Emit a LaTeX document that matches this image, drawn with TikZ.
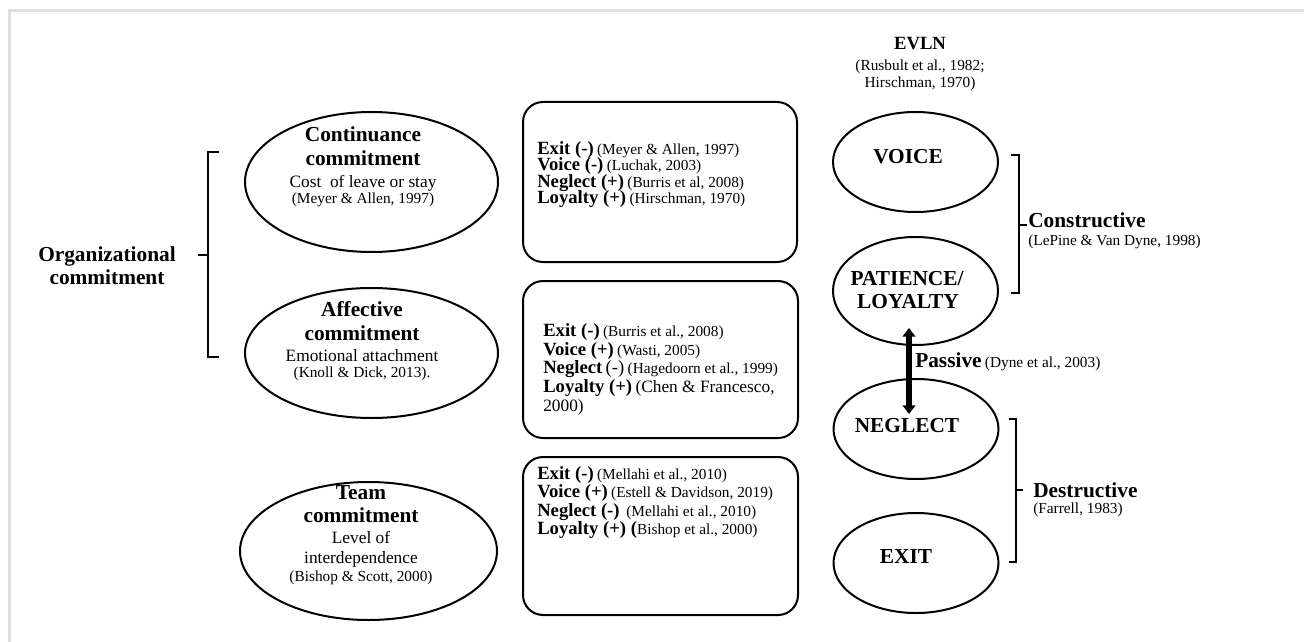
\documentclass[tikz,border=0pt]{standalone}
\usepackage{fontspec}
\setmainfont{Liberation Serif}
\usetikzlibrary{shapes.geometric,arrows.meta,calc}
\newcommand\BB[1]{{\fontsize{14}{16}\selectfont\bfseries #1}}
\newcommand\BR[1]{{\fontsize{14}{16}\selectfont #1}}
\newcommand\CC[1]{{\fontsize{11.5}{13}\selectfont #1}}
\newcommand\CL[1]{{\fontsize{13}{15}\selectfont #1}}
\begin{document}
\begin{tikzpicture}[x=0.75pt,y=-0.75pt,
  ell/.style={draw, ellipse, line width=1.5pt, inner sep=0pt},
  rbox/.style={draw, rectangle, rounded corners=15pt, line width=1.5pt, inner sep=0pt},
  ln/.style={anchor=base, inner sep=0pt},
  lnw/.style={anchor=base west, inner sep=0pt},
  big/.style={font=\fontsize{16}{19}\selectfont\bfseries},
  sub/.style={font=\fontsize{13}{15}\selectfont},
  cit/.style={font=\fontsize{11.5}{13}\selectfont},
  brk/.style={line width=1.5pt},
  frameline/.style={draw=black!13, line width=2.25pt},
  passarr/.style={{Triangle[width=9.5pt,length=6.5pt]}-{Triangle[width=9.5pt,length=6.5pt]}, line width=3.8pt}
]
\useasboundingbox (0,0) rectangle (1304,642);
\draw[frameline] (9,642) -- (9,11) -- (1304,11);

% left: organizational commitment
\node[ln,big] (org1) at (107,261) {Organizational};
\node[ln,big] (org2) at (107,284) {commitment};
\coordinate (lbM) at (208,255);
\draw[brk] (219,152) -- (208,152) -- (208,357) -- (219,357);
\draw[brk] (lbM) -- ++(-10,0);

% ellipses left
\node[ell, minimum width=189.75pt, minimum height=105pt] (cont) at (371.5,182) {};
\node[ell, minimum width=189.75pt, minimum height=97.5pt] (aff) at (371.5,353) {};
\node[ell, minimum width=192.75pt, minimum height=103.5pt] (team) at (368.5,551) {};

\node[ln,big] (contT1) at (363,142) {Continuance};
\node[ln,big] (contT2) at (363,166) {commitment};
\node[ln,sub] (contT3) at (363,187) {Cost\ \ of leave or stay};
\node[ln,cit] (contT4) at (363,203) {(Meyer \& Allen, 1997)};

\node[ln,big] (affT1) at (362,316) {Affective};
\node[ln,big] (affT2) at (362,340) {commitment};
\node[ln,sub] (affT3) at (362,361) {Emotional attachment};
\node[ln,cit] (affT4) at (362,377) {(Knoll \& Dick, 2013).};

\node[ln,big] (teamT1) at (361,499) {Team};
\node[ln,big] (teamT2) at (361,522) {commitment};
\node[ln,sub] (teamT3) at (361,543) {Level of};
\node[ln,sub] (teamT4) at (361,563) {interdependence};
\node[ln,cit] (teamT5) at (361,581) {(Bishop \& Scott, 2000)};

% boxes
\node[rbox, minimum width=205.5pt, minimum height=120pt] (box1) at (660,182) {};
\node[rbox, minimum width=206.25pt, minimum height=117.75pt] (box2) at (660.5,359.5) {};
\node[rbox, minimum width=206.25pt, minimum height=118.5pt] (box3) at (660.5,536) {};

\node[lnw] (b1a) at (537,154) {\BB{Exit (-)} \CC{(Meyer \& Allen, 1997)}};
\node[lnw] (b1b) at (537,170.5) {\BB{Voice (-)} \CC{(Luchak, 2003)}};
\node[lnw] (b1c) at (537,187) {\BB{Neglect (+)} \CC{(Burris et al, 2008)}};
\node[lnw] (b1d) at (537,203.5) {\BB{Loyalty (+)} \CC{(Hirschman, 1970)}};

\node[lnw] (b2a) at (543,336) {\BB{Exit (-)} \CC{(Burris et al., 2008)}};
\node[lnw] (b2b) at (543,355) {\BB{Voice (+)} \CC{(Wasti, 2005)}};
\node[lnw] (b2c) at (543,373.5) {\BB{Neglect} \BR{(-)} \CC{(Hagedoorn et al., 1999)}};
\node[lnw] (b2d) at (543,392) {\BB{Loyalty (+)} \CL{(Chen \& Francesco,}};
\node[lnw] (b2e) at (543,411) {\CL{2000)}};

\node[lnw] (b3a) at (537,479) {\BB{Exit (-)} \CC{(Mellahi et al., 2010)}};
\node[lnw] (b3b) at (537,497.5) {\BB{Voice (+)} \CC{(Estell \& Davidson, 2019)}};
\node[lnw] (b3c) at (537,516) {\BB{Neglect (-)}\ \ \CC{(Mellahi et al., 2010)}};
\node[lnw] (b3d) at (537,534) {\BB{Loyalty (+) (}\CC{Bishop et al., 2000)}};

% right side
\node[ln,font=\fontsize{14}{16}\selectfont\bfseries] (evln) at (920,50) {EVLN};
\node[ln,cit] (evc1) at (920,71) {(Rusbult et al., 1982;};
\node[ln,cit] (evc2) at (920,88) {Hirschman, 1970)};

\node[ell, minimum width=123.75pt, minimum height=75pt] (voice) at (915.5,162) {};
\node[ell, minimum width=123.75pt, minimum height=81pt] (pat) at (915.5,291) {};
\node[ell, minimum width=123.75pt, minimum height=75pt] (neg) at (916,429) {};
\node[ell, minimum width=123.75pt, minimum height=75pt] (exit) at (916,563) {};

\node[ln,big] (voiceT) at (908,163) {VOICE};
\node[ln,big] (patT1) at (907,285) {PATIENCE/};
\node[ln,big] (patT2) at (908,308) {LOYALTY};
\node[ln,big] (negT) at (907,432) {NEGLECT};
\node[ln,big] (exitT) at (906,563) {EXIT};

\draw[passarr] ($(pat.south)+(-6.5,-18)$) -- ($(neg.north)+(-7,36)$);
\node[lnw] (pas) at (915,367) {{\fontsize{16}{19}\selectfont\bfseries Passive} {\fontsize{11.5}{13}\selectfont (Dyne et al., 2003)}};

% constructive bracket
\coordinate (cbM) at (1019,225);
\draw[brk] (1011,155) -- (1019,155) -- (1019,293) -- (1011,293);
\draw[brk] (cbM) -- ++(8,0);
\node[lnw,big] (cons) at (1028,227) {Constructive};
\node[lnw,cit] (lep) at (1028,245) {(LePine \& Van Dyne, 1998)};

% destructive bracket
\coordinate (dbM) at (1016,490);
\draw[brk] (1009,419) -- (1016,419) -- (1016,562) -- (1009,562);
\draw[brk] (dbM) -- ++(7,0);
\node[lnw,big] (des) at (1033,497) {Destructive};
\node[lnw,cit] (farr) at (1033,513) {(Farrell, 1983)};
\end{tikzpicture}
\end{document}
